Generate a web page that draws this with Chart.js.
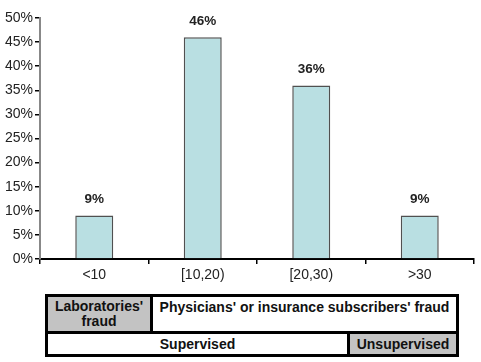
<!DOCTYPE html>
<html>
<head>
<meta charset="utf-8">
<script src="https://cdn.jsdelivr.net/npm/chart.js@4/dist/chart.umd.min.js"></script>
<style>
  body { margin: 0; background: #fff; }
  #wrap { position: relative; width: 481px; height: 362px; }
  .cell { position: absolute; box-sizing: border-box; font: bold 14px "Liberation Sans", Arial, sans-serif; color: #111;
          display: flex; align-items: center; justify-content: center; text-align: center; line-height: 15px; background: #fff; }
  .grey { background: #c3c3c3; }
</style>
</head>
<body>
<div id="wrap">
  <canvas id="chart" width="481" height="362"></canvas>
  <div id="table" style="position:absolute;left:45px;top:294px;width:414px;height:63px;background:#000;">
    <div class="cell grey" style="left:3px;top:3px;width:102px;height:34px;">Laboratories'<br>fraud</div>
    <div class="cell" style="left:108px;top:3px;width:303px;height:34px;align-items:flex-start;padding-top:3px;">Physicians' or insurance subscribers' fraud</div>
    <div class="cell" style="left:3px;top:40px;width:299px;height:20px;">Supervised</div>
    <div class="cell grey" style="left:305px;top:40px;width:106px;height:20px;">Unsupervised</div>
  </div>
</div>
<script>
var categories = ['<10', '[10,20)', '[20,30)', '>30'];
var shares = [9, 46, 36, 9];
var yTicks = [0, 5, 10, 15, 20, 25, 30, 35, 40, 45, 50];

var labelPlugin = {
  id: 'barLabels',
  afterDatasetsDraw: function(chart) {
    var ctx = chart.ctx;
    var meta = chart.getDatasetMeta(0);
    ctx.save();
    ctx.font = 'bold 13.5px "Liberation Sans", Arial, sans-serif';
    ctx.fillStyle = '#222';
    ctx.textAlign = 'center';
    ctx.textBaseline = 'middle';
    meta.data.forEach(function(bar, i) {
      ctx.fillText(shares[i] + '%', bar.x, bar.y - 16);
    });
    ctx.restore();
  }
};

new Chart(document.getElementById('chart'), {
  type: 'bar',
  data: {
    labels: categories,
    datasets: [{
      data: shares,
      backgroundColor: '#b9dfe2',
      borderColor: '#505050',
      borderWidth: 1.5,
      barPercentage: 0.35,
      categoryPercentage: 1
    }]
  },
  options: {
    responsive: false,
    animation: false,
    layout: { padding: { top: 18, right: 7, bottom: 78, left: 0 } },
    plugins: { legend: { display: false }, tooltip: { enabled: false } },
    scales: {
      x: {
        offset: true,
        grid: { offset: true, drawOnChartArea: false, tickLength: 5, color: '#000', lineWidth: 1.5 },
        border: { color: '#000', width: 2 },
        ticks: { color: '#222', font: { family: '"Liberation Sans", Arial, sans-serif', size: 14 }, padding: 3 },
        afterFit: function(s) { s.height = 25; }
      },
      y: {
        min: 0, max: 50,
        afterBuildTicks: function(s) { s.ticks = yTicks.map(function(v) { return { value: v }; }); },
        grid: { drawOnChartArea: false, tickLength: 5, color: '#000', lineWidth: 1.5 },
        border: { color: '#888', width: 2 },
        ticks: { color: '#222', font: { family: '"Liberation Sans", Arial, sans-serif', size: 14 }, padding: 2,
                 callback: function(v) { return v + '%'; } },
        afterFit: function(s) { s.width = 40; }
      }
    }
  },
  plugins: [labelPlugin]
});
</script>
</body>
</html>
